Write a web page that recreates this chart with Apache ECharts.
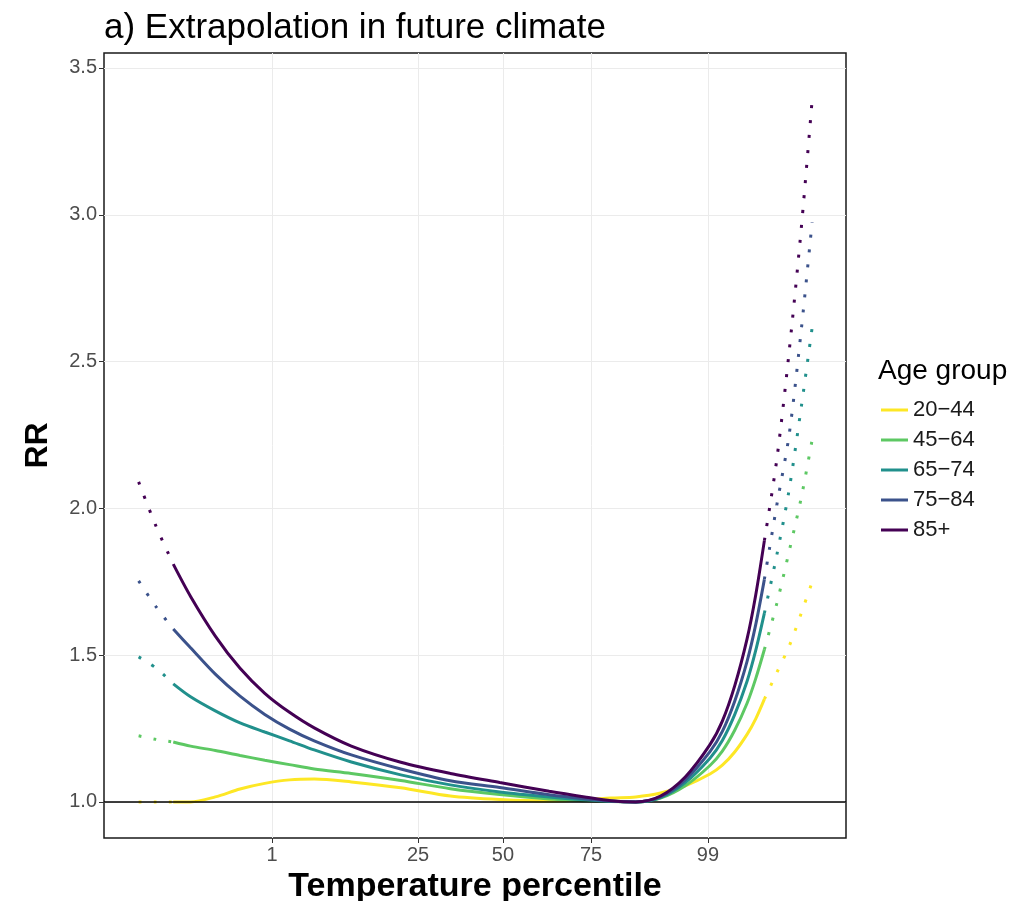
<!DOCTYPE html>
<html>
<head>
<meta charset="utf-8">
<script src="https://cdn.jsdelivr.net/npm/echarts@6/dist/echarts.min.js"></script>
<style>
html,body{margin:0;padding:0;background:#fff;}
#chart{width:1033px;height:901px;}
</style>
</head>
<body>
<div id="chart"></div>
<script>
// ---- data (temperature scale in arbitrary degrees; tick labels are percentiles) ----
const groups = ['20\u221244', '45\u221264', '65\u221274', '75\u221284', '85+'];
const colors = ['#FDE725', '#5DC863', '#21908C', '#3B528B', '#440154'];

const tickTemps = [4.79, 10.70, 14.13, 17.69, 22.42];
const tickLabels = ['1', '25', '50', '75', '99'];
const yTicks = [1.0, 1.5, 2.0, 2.5, 3.0, 3.5];

const tempLeft = [-0.6, 0.1, 0.8];
const tempMain = [0.8, 1.5, 2.5, 3.5, 4.5, 5.5, 6.5, 8, 10, 12, 14, 16, 17.5, 18.5, 19.5, 20.5, 21.5, 22.5, 23, 23.5, 24, 24.35, 24.7];
const tempRight = [24.7, 25.2, 25.7, 26.2, 26.63];

const rrLeft_20_44 = [1.0, 1.0, 1.0];
const rrLeft_45_64 = [1.225, 1.213, 1.204];
const rrLeft_65_74 = [1.494, 1.456, 1.402];
const rrLeft_75_84 = [1.753, 1.665, 1.589];
const rrLeft_85p   = [2.09, 1.94, 1.81];

const rrMain_20_44 = [1.0, 1.0, 1.017, 1.044, 1.063, 1.075, 1.078, 1.068, 1.048, 1.02, 1.008, 1.003, 1.007, 1.013, 1.017, 1.03, 1.055, 1.095, 1.125, 1.17, 1.23, 1.283, 1.35];
const rrMain_45_64 = [1.204, 1.19, 1.175, 1.158, 1.142, 1.127, 1.112, 1.097, 1.073, 1.045, 1.025, 1.01, 1.004, 1.001, 1.0, 1.013, 1.055, 1.124, 1.173, 1.244, 1.336, 1.42, 1.519];
const rrMain_65_74 = [1.402, 1.358, 1.31, 1.269, 1.238, 1.208, 1.177, 1.136, 1.092, 1.058, 1.034, 1.017, 1.007, 1.002, 1.0, 1.015, 1.066, 1.149, 1.209, 1.297, 1.411, 1.516, 1.643];
const rrMain_75_84 = [1.589, 1.525, 1.435, 1.36, 1.298, 1.248, 1.208, 1.16, 1.112, 1.072, 1.049, 1.024, 1.01, 1.003, 1.0, 1.017, 1.075, 1.171, 1.24, 1.343, 1.479, 1.604, 1.758];
const rrMain_85p   = [1.81, 1.70, 1.565, 1.455, 1.37, 1.305, 1.252, 1.19, 1.135, 1.097, 1.066, 1.036, 1.016, 1.004, 1.0, 1.02, 1.085, 1.195, 1.275, 1.395, 1.555, 1.705, 1.89];

const rrRight_20_44 = [1.35, 1.44, 1.53, 1.645, 1.749];
const rrRight_45_64 = [1.519, 1.675, 1.853, 2.04, 2.233];
const rrRight_65_74 = [1.643, 1.84, 2.063, 2.35, 2.615];
const rrRight_75_84 = [1.758, 2.01, 2.25, 2.615, 2.975];
const rrRight_85p   = [1.89, 2.165, 2.533, 2.962, 3.39];

const leftSets  = [rrLeft_20_44, rrLeft_45_64, rrLeft_65_74, rrLeft_75_84, rrLeft_85p];
const mainSets  = [rrMain_20_44, rrMain_45_64, rrMain_65_74, rrMain_75_84, rrMain_85p];
const rightSets = [rrRight_20_44, rrRight_45_64, rrRight_65_74, rrRight_75_84, rrRight_85p];

function pairs(xs, ys) { return xs.map((x, i) => [x, ys[i]]); }

const FONT = '"Liberation Sans", Arial, Helvetica, sans-serif';
const series = [];
groups.forEach((g, i) => {
  series.push({
    name: g, type: 'line', data: pairs(tempMain, mainSets[i]), showSymbol: false,
    smooth: 0.3, lineStyle: { color: colors[i], width: 3 }, itemStyle: { color: colors[i] },
    z: 3 + i, silent: true
  });
  series.push({
    name: g, type: 'line', data: pairs(tempLeft, leftSets[i]), showSymbol: false,
    smooth: 0.3, lineStyle: { color: colors[i], width: 3, type: [3, 12], cap: 'butt' },
    itemStyle: { color: colors[i] }, z: 3 + i, silent: true
  });
  series.push({
    name: g, type: 'line', data: pairs(tempRight, rightSets[i]), showSymbol: false,
    smooth: 0.3, lineStyle: { color: colors[i], width: 3, type: [3, 12], cap: 'butt' },
    itemStyle: { color: colors[i] }, z: 3 + i, silent: true
  });
});
series.push({
  type: 'line', data: [], silent: true,
  markLine: {
    silent: true, symbol: 'none', label: { show: false },
    lineStyle: { color: '#000', width: 1.5, type: 'solid' },
    data: [{ yAxis: 1 }]
  }, z: 2
});

const chart = echarts.init(document.getElementById('chart'), null, { renderer: 'canvas' });
chart.setOption({
  animation: false,
  backgroundColor: '#fff',
  textStyle: { fontFamily: FONT },
  title: [
    { text: 'a) Extrapolation in future climate', left: 99, top: 6,
      textStyle: { fontFamily: FONT, fontSize: 35, fontWeight: 'normal', color: '#000' } },
    { text: 'Age group', left: 873, top: 352,
      textStyle: { fontFamily: FONT, fontSize: 28, fontWeight: 'normal', color: '#000' } }
  ],
  legend: {
    data: groups.map(g => ({ name: g })),
    orient: 'vertical', left: 876, top: 394,
    icon: 'rect', itemWidth: 27, itemHeight: 3, itemGap: 8,
    selectedMode: false,
    textStyle: { fontFamily: FONT, fontSize: 22, color: '#1a1a1a', lineHeight: 22 }
  },
  grid: { left: 104, right: 187, top: 53, bottom: 63, show: true, borderColor: '#1a1a1a', borderWidth: 1.5,
          backgroundColor: 'transparent', containLabel: false, outerBoundsMode: 'none' },
  xAxis: {
    type: 'value', min: -2, max: 28,
    name: 'Temperature percentile', nameLocation: 'middle', nameGap: 32,
    nameTextStyle: { fontFamily: FONT, fontSize: 34, fontWeight: 'bold', color: '#000' },
    axisLine: { show: false, onZero: false },
    axisTick: { show: true, length: 5, lineStyle: { color: '#333', width: 1 }, customValues: tickTemps },
    axisLabel: {
      customValues: tickTemps, fontSize: 20, color: '#4D4D4D', margin: 7,
      formatter: v => { let k = 0, d = 1e9; tickTemps.forEach((t, j) => { if (Math.abs(t - v) < d) { d = Math.abs(t - v); k = j; } }); return tickLabels[k]; }
    },
    splitLine: { show: true, lineStyle: { color: '#EBEBEB', width: 1 } }
  },
  yAxis: {
    type: 'value', min: 0.877, max: 3.551,
    name: 'RR', nameLocation: 'middle', nameGap: 50,
    nameTextStyle: { fontFamily: FONT, fontSize: 32, fontWeight: 'bold', color: '#000' },
    axisLine: { show: false, onZero: false },
    axisTick: { show: true, length: 5, lineStyle: { color: '#333', width: 1 }, customValues: yTicks },
    axisLabel: { customValues: yTicks, fontSize: 20, color: '#4D4D4D', margin: 7, formatter: v => v.toFixed(1) },
    splitLine: { show: true, lineStyle: { color: '#EBEBEB', width: 1 } }
  },
  series: series
});
</script>
</body>
</html>
